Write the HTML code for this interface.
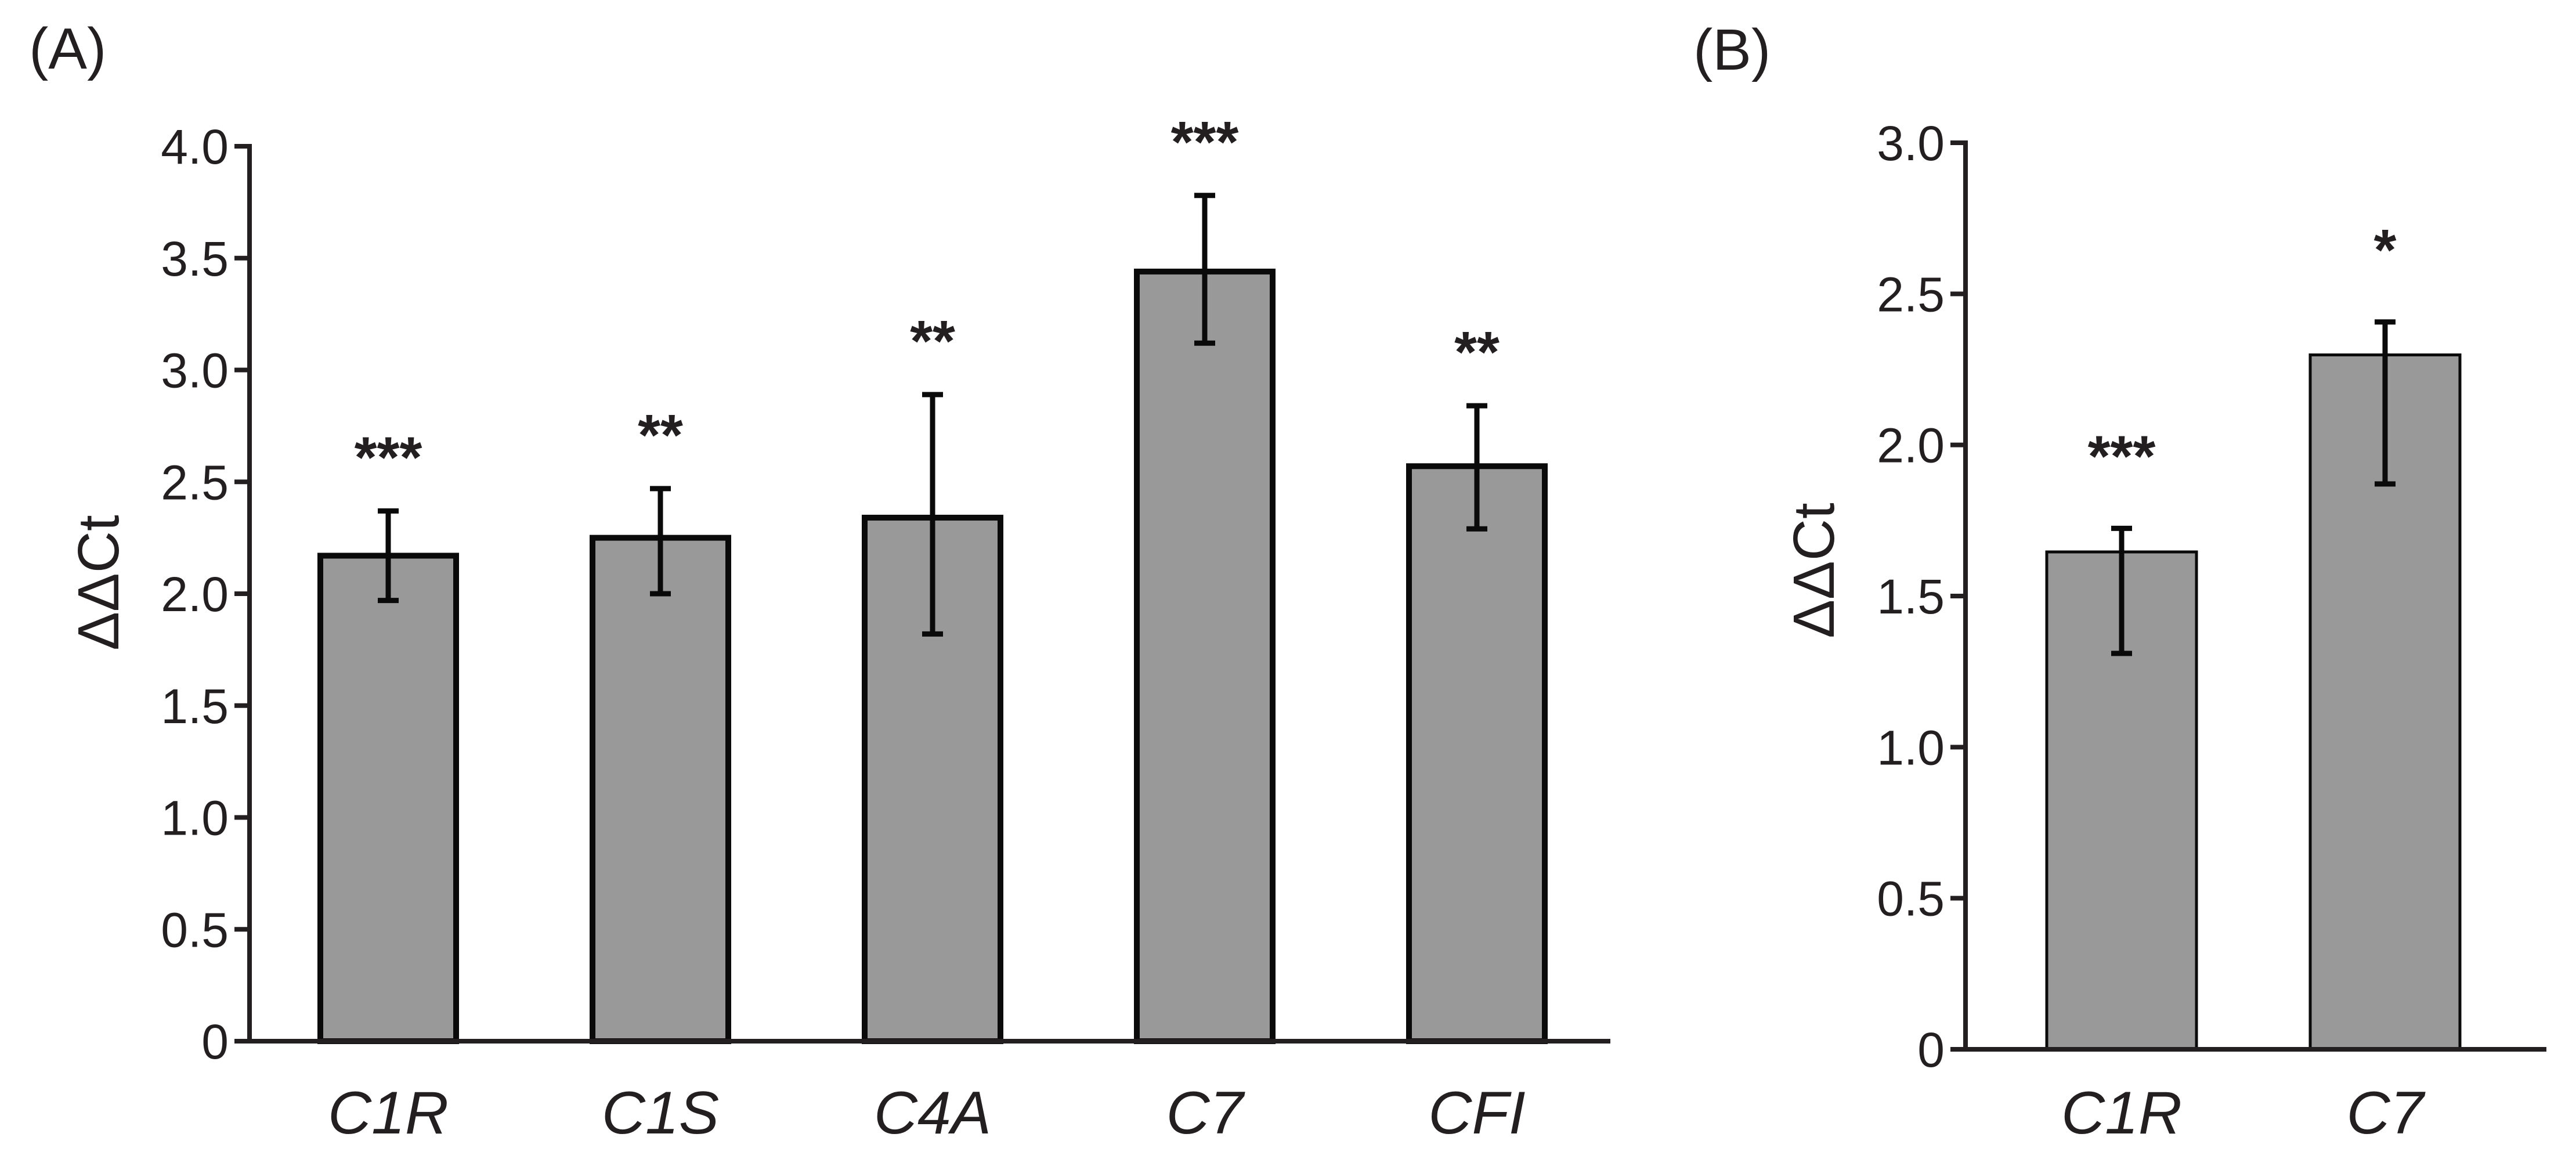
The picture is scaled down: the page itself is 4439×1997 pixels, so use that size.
<!DOCTYPE html>
<html><head><meta charset="utf-8"><style>
html,body{margin:0;padding:0;background:#fff;}
svg{display:block;}
text{font-family:"Liberation Sans",sans-serif;fill:#231f20;}
</style></head><body>
<svg id="chart" width="4439" height="1997" viewBox="0 0 4439 1997" xmlns="http://www.w3.org/2000/svg">
<text x="50" y="118" font-size="100">(A)</text>
<text x="2918" y="120" font-size="100">(B)</text>
<g id="pa"></g>
<g id="pb"></g>
</svg>
<script>
const catsA = ["C1R","C1S","C4A","C7","CFI"];
const valsA = [2.17,2.25,2.34,3.44,2.57];
const errLoA = [1.97,2.00,1.82,3.12,2.29];
const errHiA = [2.37,2.47,2.89,3.78,2.84];
const starsA = ["***","**","**","***","**"];
const ticksA = ["0","0.5","1.0","1.5","2.0","2.5","3.0","3.5","4.0"];
const tickValsA = [0,0.5,1,1.5,2,2.5,3,3.5,4];

const catsB = ["C1R","C7"];
const valsB = [1.646,2.298];
const errLoB = [1.31,1.871];
const errHiB = [1.724,2.407];
const starsB = ["***","*"];
const ticksB = ["0","0.5","1.0","1.5","2.0","2.5","3.0"];
const tickValsB = [0,0.5,1,1.5,2,2.5,3];

const NS="http://www.w3.org/2000/svg";
function mk(parent,tag,attrs){const e=document.createElementNS(NS,tag);for(const k in attrs)e.setAttribute(k,attrs[k]);parent.appendChild(e);return e;}

function drawPanel(g,cfg,cats,vals,lo,hi,stars,ticks,tickVals){
  const y=v=>cfg.y0-(v/cfg.ymax)*(cfg.y0-cfg.yTop);
  const x=i=>cfg.c0+i*cfg.step;
  let ax=mk(g,'line',{x1:cfg.ax,y1:cfg.yTop-4,x2:cfg.ax,y2:cfg.y0+4,stroke:'#231f20','stroke-width':cfg.axw});
  
  
  tickVals.forEach((tv,i)=>{
    const t=mk(g,'line',{x1:cfg.ax-26,y1:y(tv),x2:cfg.ax,y2:y(tv),stroke:'#231f20','stroke-width':cfg.axw});
    
    
    const l=mk(g,'text',{x:cfg.ax-36,y:y(tv)+30,'font-size':84,'text-anchor':'end'});
    l.textContent=ticks[i];
    
    
  });
  cats.forEach((c,i)=>{
    const top=y(vals[i]);
    const b=mk(g,'rect',{x:x(i)-cfg.bw/2,y:top,width:cfg.bw,height:cfg.y0-top,fill:'#999999',stroke:'#0a0a0a','stroke-width':cfg.bs});
    
    
    const e=mk(g,'path',{d:`M${x(i)},${y(hi[i])}V${y(lo[i])}M${x(i)-18},${y(hi[i])}H${x(i)+18}M${x(i)-18},${y(lo[i])}H${x(i)+18}`,stroke:'#0a0a0a','stroke-width':9,fill:'none'});
    
    
    const s=mk(g,'text',{x:x(i),y:y(hi[i])-cfg.starOff+57,'font-size':100,'font-weight':'bold','text-anchor':'middle'});
    s.textContent=stars[i];
    
    
    const l=mk(g,'text',{x:x(i),y:1953,'font-size':104,'font-style':'italic','text-anchor':'middle'});
    l.textContent=c;
    
    
  });
  let xa=mk(g,'line',{x1:cfg.ax-20,y1:cfg.y0,x2:cfg.xEnd,y2:cfg.y0,stroke:'#231f20','stroke-width':cfg.axw});
  
  
  const yl=mk(g,'text',{x:0,y:0,'font-size':100,'text-anchor':'middle',transform:`translate(${cfg.ylx},${cfg.yly}) rotate(-90)`});
  yl.textContent='ΔΔCt';
  
  
}
drawPanel(document.getElementById('pa'),{ax:430,yTop:252,y0:1794,ymax:4,c0:669,step:469,bw:234,bs:10,axw:8,xEnd:2775,starOff:115,ylx:204,yly:1004},catsA,valsA,errLoA,errHiA,starsA,ticksA,tickValsA);
drawPanel(document.getElementById('pb'),{ax:3387,yTop:246,y0:1808,ymax:3,c0:3656,step:454,bw:258,bs:5,axw:8,xEnd:4388,starOff:147,ylx:3160,yly:983},catsB,valsB,errLoB,errHiB,starsB,ticksB,tickValsB);
</script>
</body></html>
